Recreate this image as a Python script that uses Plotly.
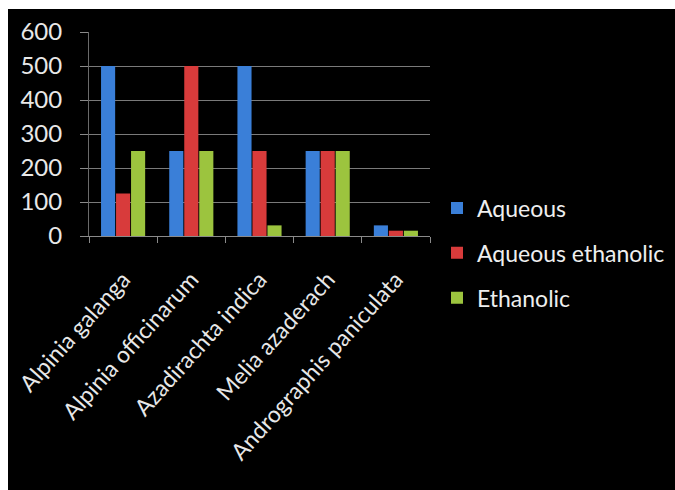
import plotly.graph_objects as go

categories = ["Alpinia galanga", "Alpinia officinarum", "Azadirachta indica",
              "Melia azaderach", "Andrographis paniculata"]
aqueous = [500, 250, 500, 250, 31.25]
aqueous_ethanolic = [125, 500, 250, 250, 15.6]
ethanolic = [250, 250, 31.25, 250, 15.6]
series_names = ["Aqueous", "Aqueous ethanolic", "Ethanolic"]
colors = ["#3a7fd8", "#d83b3b", "#9cc43e"]
y_ticks = [0, 100, 200, 300, 400, 500, 600]

W, H = 675, 490
L, R, T, B = 89, 245, 32, 254
pw, ph = W - L - R, H - T - B

def px_x(p):
    return (p - L) / pw

def px_y(p):
    return (H - B - p) / ph

fig = go.Figure()
for name, vals, col in zip(series_names, [aqueous, aqueous_ethanolic, ethanolic], colors):
    fig.add_trace(go.Bar(
        x=categories, y=vals, name=name, legendgroup=name,
        marker=dict(color=col, line=dict(width=0)),
    ))

fig.add_shape(type="rect", xref="paper", yref="paper",
              x0=px_x(8), x1=px_x(W + 5), y0=px_y(H + 5), y1=px_y(9),
              fillcolor="black", line=dict(width=0), layer="below")

font_family = "Lato, 'Open Sans', sans-serif"
fig.update_layout(
    width=W, height=H,
    margin=dict(l=L, r=R, t=T, b=B, autoexpand=False),
    paper_bgcolor="white",
    plot_bgcolor="#3c3c3c",
    barmode="group",
    bargap=0.34,
    bargroupgap=0.06,
    font=dict(family=font_family, color="#e8e8e8"),
    showlegend=True,
    legend=dict(
        x=px_x(437), y=px_y(253), xanchor="left", yanchor="middle",
        font=dict(size=23, color="#eeeeee"),
        traceorder="grouped", tracegroupgap=12,
        bgcolor="rgba(0,0,0,0)",
        itemwidth=30,
    ),
    xaxis=dict(
        tickangle=-48,
        tickfont=dict(size=23, color="#e8e8e8"),
        ticks="outside", tickson="boundaries", ticklen=6,
        tickcolor="#8a8a8a",
        showline=True, linecolor="#8a8a8a", linewidth=1,
        showgrid=False,
        ticklabelstandoff=20,
    ),
    yaxis=dict(
        range=[0, 600], tickvals=y_ticks,
        tickfont=dict(size=24, color="#e8e8e8"),
        ticks="outside", ticklen=8, tickcolor="#8a8a8a",
        showline=True, linecolor="#6a6a6a", linewidth=1,
        showgrid=True, gridcolor="#7a7a7a", gridwidth=1,
        zeroline=False,
        ticklabelstandoff=13,
    ),
)

fig.write_html("out.html", config={"displayModeBar": False},
               post_script="document.body.style.margin='0';document.body.style.overflow='hidden';")
